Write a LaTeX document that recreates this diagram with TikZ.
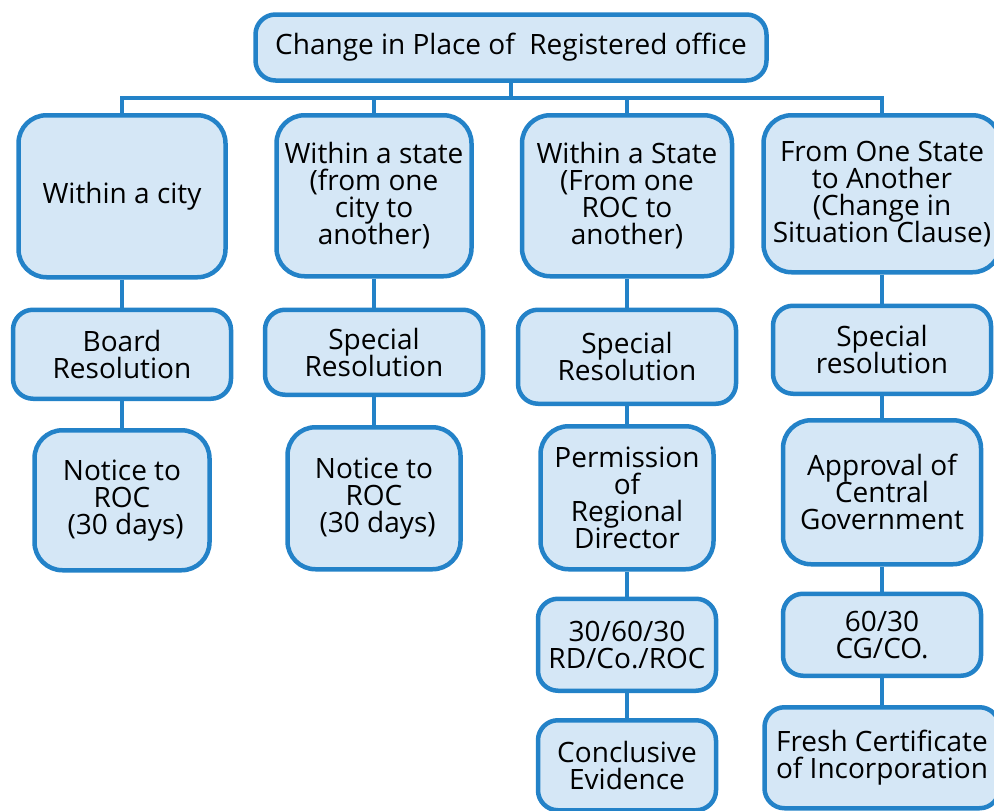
\documentclass[tikz,border=0pt]{standalone}
\usepackage{fontspec}
\setmainfont{Open Sans}
\usetikzlibrary{positioning}
\definecolor{boxline}{RGB}{35,130,200}
\definecolor{boxfill}{RGB}{213,231,246}
\newcommand{\boxfont}{\fontsize{28}{27}\selectfont\setlength{\lineskiplimit}{-20pt}}
\tikzset{
  box/.style={draw=boxline, fill=boxfill, line width=4.5pt, rounded corners=20pt,
    align=center, inner sep=2pt, font=\boxfont},
  tall/.style={box, rounded corners=28pt},
  link/.style={draw=boxline, line width=4pt},
}

\begin{document}
\begin{tikzpicture}[x=1pt, y=-1pt]
  \useasboundingbox (0,0) rectangle (994,811);

  \node[box, minimum width=511pt, minimum height=66pt] (office) at (511,47.5) {Change in Place of~~Registered office};

  % within a city
  \node[tall, anchor=north, minimum width=207pt, minimum height=162pt] (city) at (122,113) {Within a city};
  \node[box, below=28pt of city, minimum width=218pt, minimum height=89pt] (cityres) {Board\\Resolution};
  \node[tall, below=27pt of cityres, minimum width=175pt, minimum height=140pt] (citynotice) {Notice to\\ROC\\\ (30 days)};

  % within a state, city to city
  \node[tall, anchor=north, minimum width=195pt, minimum height=161pt] (state) at (374,113) {Within a state\\(from one\\city to\\another)};
  \node[box, below=29pt of state, minimum width=218pt, minimum height=85pt] (stateres) {Special\\Resolution};
  \node[tall, below=28pt of stateres, minimum width=173pt, minimum height=142pt] (statenotice) {Notice to\\ROC\\\ (30 days)};

  % within a state, ROC to ROC
  \node[tall, anchor=north, minimum width=210pt, minimum height=161pt] (roc) at (627,113) {Within a State\\(From one\\ROC to\\another)};
  \node[box, below=29pt of roc, minimum width=218pt, minimum height=94pt] (rocres) {Special\\Resolution};
  \node[tall, below=18pt of rocres, minimum width=173pt, minimum height=143pt] (rocrd) {Permission\\of\\Regional\\Director};
  \node[box, below=25pt of rocrd, minimum width=178pt, minimum height=92pt] (rocdays) {30/60/30\\RD/Co./ROC};
  \node[box, below=25pt of rocdays, minimum width=178pt, minimum height=90pt] (rocev) {Conclusive\\Evidence};

  % state to state
  \node[tall, anchor=north, minimum width=237pt, minimum height=157pt] (inter) at (882,113) {From One State\\to Another\\(Change in\\Situation Clause)};
  \node[box, below=29pt of inter, minimum width=218pt, minimum height=88pt] (interres) {Special\\resolution};
  \node[tall, below=22pt of interres, minimum width=198pt, minimum height=144pt] (intercg) {Approval of\\Central\\Government};
  \node[box, below=25pt of intercg, minimum width=198pt, minimum height=82pt] (interdays) {60/30\\CG/CO.};
  \node[box, below=27pt of interdays, minimum width=235pt, minimum height=101pt] (intercert) {Fresh Certificate\\of Incorporation};

  % bus
  \coordinate (busl) at (122,98);
  \coordinate (busr) at (882,98);
  \draw[link] (office) -- (office |- busl);
  \draw[link] (city) -- (busl) -- (busr) -- (inter);
  \draw[link] (state) -- (state |- busl);
  \draw[link] (roc) -- (roc |- busl);

  \foreach \a/\b in {city/cityres, cityres/citynotice,
                     state/stateres, stateres/statenotice,
                     roc/rocres, rocres/rocrd, rocrd/rocdays, rocdays/rocev,
                     inter/interres, interres/intercg, intercg/interdays, interdays/intercert}
    \draw[link] (\a) -- (\b);
\end{tikzpicture}
\end{document}
